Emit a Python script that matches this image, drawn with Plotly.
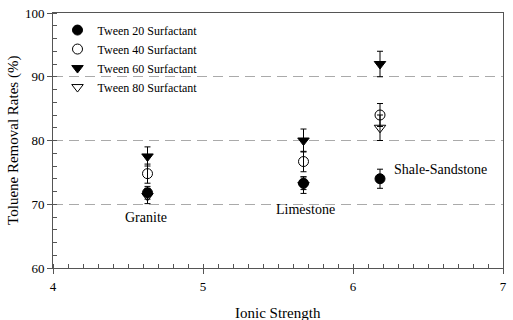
import plotly.graph_objects as go

sites_x = [4.63, 5.67, 6.18]
site_labels = ["Granite", "Limestone", "Shale-Sandstone"]
series_names = ["Tween 20 Surfactant", "Tween 40 Surfactant", "Tween 60 Surfactant", "Tween 80 Surfactant"]
tween20 = [71.8, 73.3, 74.0]
tween20_err = [1.0, 1.0, 1.5]
tween40 = [74.8, 76.7, 84.0]
tween40_err = [1.5, 1.6, 1.8]
tween60 = [77.5, 80.0, 92.0]
tween60_err = [1.5, 1.8, 2.0]
tween80 = [71.3, 73.0, 82.0]
tween80_err = [1.2, 1.3, 2.0]

label_x = [4.62, 5.68, 6.58]
label_y = [68.0, 69.1, 75.5]

FONT = "Liberation Serif, Times New Roman, serif"

styles = [
    dict(symbol="circle", color="black", line=dict(color="black", width=1)),
    dict(symbol="circle-open", color="black", line=dict(color="black", width=1)),
    dict(symbol="triangle-down", color="black", line=dict(color="black", width=1)),
    dict(symbol="triangle-down-open", color="black", line=dict(color="black", width=1)),
]

fig = go.Figure()
for name, ys, errs, st in zip(series_names, [tween20, tween40, tween60, tween80],
                              [tween20_err, tween40_err, tween60_err, tween80_err], styles):
    fig.add_trace(go.Scatter(
        x=sites_x, y=ys, mode="markers", name=name,
        marker=dict(size=10, **st),
        error_y=dict(type="data", array=errs, visible=True, color="black", thickness=1, width=3),
    ))

for lx, ly, t in zip(label_x, label_y, site_labels):
    fig.add_annotation(x=lx, y=ly, text=t, showarrow=False,
                       font=dict(family=FONT, size=14, color="black"))

# axis titles
fig.add_annotation(xref="paper", yref="paper", x=0.5, y=-0.175, yanchor="middle",
                   text="Ionic Strength", showarrow=False,
                   font=dict(family=FONT, size=15, color="black"))
fig.add_annotation(xref="paper", yref="paper", x=-0.088, y=0.5, xanchor="center", textangle=-90,
                   text="Toluene Removal Rates (%)", showarrow=False,
                   font=dict(family=FONT, size=15, color="black"))

fig.update_layout(
    width=513, height=320,
    margin=dict(l=53, r=10, t=13, b=52),
    plot_bgcolor="white", paper_bgcolor="white",
    font=dict(family=FONT, size=13, color="black"),
    showlegend=True,
    legend=dict(x=0.01, y=0.99, xanchor="left", yanchor="top",
                bgcolor="rgba(0,0,0,0)", font=dict(family=FONT, size=12, color="black"),
                tracegroupgap=0, itemwidth=30),
    xaxis=dict(range=[4, 7], tickvals=[4, 5, 6, 7], showgrid=False, zeroline=False,
               showline=True, linecolor="#555", linewidth=1, mirror=True,
               ticks="outside", ticklen=5, tickcolor="#555", automargin=False,
               ticklabelstandoff=1,
               tickfont=dict(family=FONT, size=13, color="black"),
               minor=dict(dtick=0.1, ticks="inside", ticklen=4, tickcolor="#555")),
    yaxis=dict(range=[60, 100], tickvals=[60, 70, 80, 90, 100], showgrid=True,
               gridcolor="#aaa", griddash="10px,6px", gridwidth=1, zeroline=False,
               showline=True, linecolor="#555", linewidth=1, mirror=True,
               ticks="outside", ticklen=5, tickcolor="#555", automargin=False,
               tickfont=dict(family=FONT, size=13, color="black"),
               minor=dict(dtick=2, ticks="inside", ticklen=4, tickcolor="#555", showgrid=False)),
)

fig.write_html("out.html")
